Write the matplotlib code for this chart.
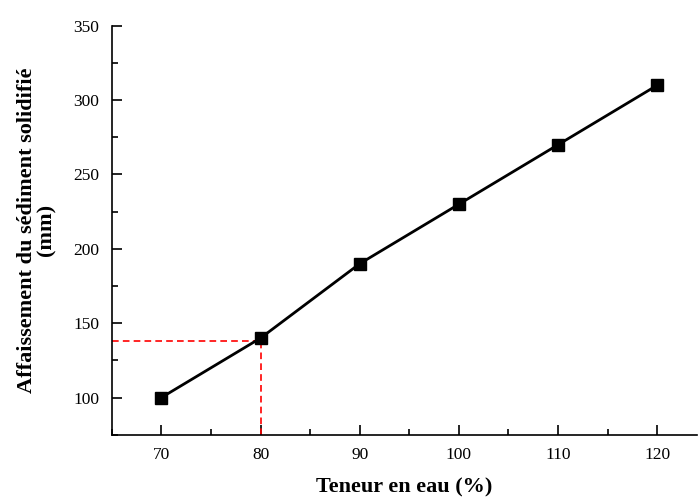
import matplotlib
matplotlib.use('Agg')
import matplotlib.pyplot as plt
from matplotlib.ticker import MultipleLocator

# --- Data ---
teneur_eau = [70, 80, 90, 100, 110, 120]
affaissement = [100, 140, 190, 230, 270, 310]

# reference reading (red dashed guide)
ref_x = 80
ref_y = 138

plt.rcParams['font.family'] = ['Liberation Serif', 'DejaVu Serif']

fig = plt.figure(figsize=(6.99, 4.97), dpi=100)
ax = fig.add_axes([0.160, 0.1253, 0.837, 0.8229])

ax.plot(teneur_eau, affaissement, color='black', lw=2, marker='s',
        markersize=9, markerfacecolor='black', zorder=3)

xmin, ymin = 65, 75
ax.plot([xmin, ref_x], [ref_y, ref_y], color='#ff0000', lw=1.2, dashes=(4, 2.5), zorder=2)
ax.plot([ref_x, ref_x], [ymin, ref_y], color='#ff0000', lw=1.2, dashes=(4, 2.5), zorder=2)

ax.set_xlim(xmin, 124)
ax.set_ylim(ymin, 350)

ax.xaxis.set_major_locator(MultipleLocator(10))
ax.xaxis.set_minor_locator(MultipleLocator(5))
ax.yaxis.set_major_locator(MultipleLocator(50))
ax.yaxis.set_minor_locator(MultipleLocator(25))
ax.set_yticks([100, 150, 200, 250, 300, 350])

ax.spines['top'].set_visible(False)
ax.spines['right'].set_visible(False)
for s in ['left', 'bottom']:
    ax.spines[s].set_linewidth(1.2)

ax.tick_params(which='major', direction='in', length=7, width=1.2, labelsize=12.5, pad=9)
ax.tick_params(which='minor', direction='in', length=4, width=1.2)

ax.set_xlabel('Teneur en eau (%)', fontsize=16, fontweight='bold', labelpad=10)
ax.set_ylabel('Affaissement du sédiment solidifié\n(mm)', fontsize=16,
              fontweight='bold', labelpad=12, linespacing=1.0)

fig.savefig('out.png', dpi=100)
